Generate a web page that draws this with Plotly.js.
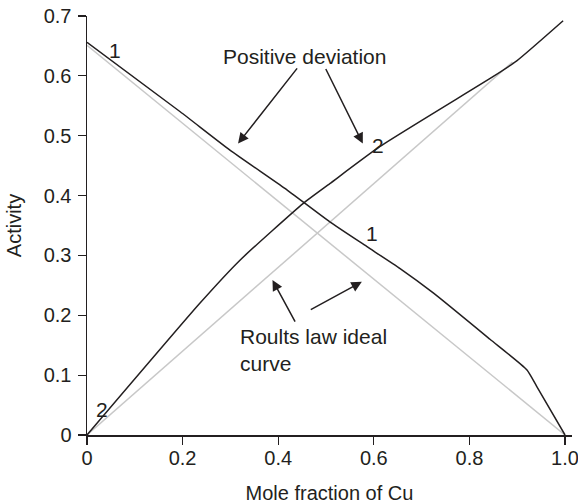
<!DOCTYPE html>
<html>
<head>
<meta charset="utf-8">
<script src="https://cdn.plot.ly/plotly-3.0.1.min.js"></script>
<style>html,body{margin:0;padding:0;background:#fff;}#chart{width:578px;height:504px;}</style>
</head>
<body>
<div id="chart"></div>
<script>
// Raoult's law ideal lines
const idealX1 = [0, 1.0];
const idealY1 = [0.651, 0];
const idealX2 = [0, 0.89];
const idealY2 = [0, 0.623];
// Measured activity curves (positive deviation)
const curve1X = [0, 0.195, 0.299, 0.414, 0.508, 0.585, 0.655, 0.725, 0.843, 0.92, 0.941, 1.0];
const curve1Y = [0.656, 0.540, 0.476, 0.412, 0.356, 0.315, 0.278, 0.237, 0.160, 0.109, 0.081, 0.0];
const curve2X = [0, 0.236, 0.32, 0.4525, 0.508, 0.613, 0.85, 0.899, 0.996];
const curve2Y = [0, 0.22, 0.292, 0.387, 0.42, 0.482, 0.599, 0.625, 0.692];
// Ticks
const xTickVals = [0, 0.2, 0.4, 0.6, 0.8, 1.0];
const xTickText = ['0', '0.2', '0.4', '0.6', '0.8', '1.0'];
const yTickVals = [0, 0.1, 0.2, 0.3, 0.4, 0.5, 0.6, 0.7];
const yTickText = ['0', '0.1', '0.2', '0.3', '0.4', '0.5', '0.6', '0.7'];
// Labels
const curveLabels = [
  {text: '1', x: 0.059, y: 0.643},
  {text: '2', x: 0.032, y: 0.042},
  {text: '2', x: 0.609, y: 0.484},
  {text: '1', x: 0.596, y: 0.337}
];
const arrows = [
  {x: 0.316, y: 0.487, ax: 0.442, ay: 0.615},
  {x: 0.577, y: 0.487, ax: 0.498, ay: 0.614},
  {x: 0.388, y: 0.259, ax: 0.437, ay: 0.187},
  {x: 0.575, y: 0.256, ax: 0.465, ay: 0.208}
];

const ink = '#231f20';
const gray = '#c8c8c8';
const fontFam = 'Liberation Sans, Arial, sans-serif';

const traces = [
  {x: idealX1, y: idealY1, mode: 'lines', line: {color: gray, width: 1.5}, hoverinfo: 'skip'},
  {x: idealX2, y: idealY2, mode: 'lines', line: {color: gray, width: 1.5}, hoverinfo: 'skip'},
  {x: curve1X, y: curve1Y, mode: 'lines', line: {color: ink, width: 1.5, shape: 'spline', smoothing: 0.5}, hoverinfo: 'skip'},
  {x: curve2X, y: curve2Y, mode: 'lines', line: {color: ink, width: 1.5, shape: 'spline', smoothing: 0.5}, hoverinfo: 'skip'}
];

const annotations = [];
curveLabels.forEach(l => annotations.push({
  x: l.x, y: l.y, xref: 'x', yref: 'y', text: l.text, showarrow: false,
  font: {family: fontFam, size: 21, color: ink}
}));
arrows.forEach(a => annotations.push({
  x: a.x, y: a.y, ax: a.ax, ay: a.ay, xref: 'x', yref: 'y', axref: 'x', ayref: 'y',
  text: '', showarrow: true, arrowhead: 2, arrowsize: 1.4, arrowwidth: 1.5, arrowcolor: ink, standoff: 0, startstandoff: 0
}));
annotations.push({
  x: 0.456, y: 0.632, xref: 'x', yref: 'y', text: 'Positive deviation', showarrow: false,
  font: {family: fontFam, size: 21, color: ink}
});
annotations.push({
  x: 0.316, y: 0.142, xref: 'x', yref: 'y', text: 'Roults law ideal<br>curve', showarrow: false,
  xanchor: 'left', yanchor: 'middle', align: 'left',
  font: {family: fontFam, size: 21, color: ink}
});

const layout = {
  width: 578, height: 504,
  margin: {l: 87, r: 6, t: 16, b: 69},
  paper_bgcolor: '#fff', plot_bgcolor: '#fff',
  showlegend: false,
  font: {family: fontFam, size: 20, color: ink},
  xaxis: {
    range: [0, 1.0146], tickvals: xTickVals, ticktext: xTickText,
    showgrid: false, zeroline: false, showline: true, linecolor: ink, linewidth: 1.5,
    ticks: 'outside', ticklen: 8, tickwidth: 1.2, tickcolor: ink,
    tickfont: {family: fontFam, size: 20, color: ink},
    ticklabelstandoff: -4, ticklabeloverflow: 'allow',
    title: {text: 'Mole fraction of Cu', font: {family: fontFam, size: 20, color: ink}, standoff: 18},
    fixedrange: true
  },
  yaxis: {
    range: [0, 0.7], tickvals: yTickVals, ticktext: yTickText,
    showgrid: false, zeroline: false, showline: true, linecolor: ink, linewidth: 1.5,
    ticks: 'outside', ticklen: 8, tickwidth: 1.2, tickcolor: ink,
    tickfont: {family: fontFam, size: 20, color: ink},
    ticklabelstandoff: 2, ticklabeloverflow: 'allow',
    title: {text: 'Activity', font: {family: fontFam, size: 20, color: ink}, standoff: 16},
    fixedrange: true
  },
  annotations: annotations
};

Plotly.newPlot('chart', traces, layout, {displayModeBar: false, staticPlot: true});
</script>
</body>
</html>
